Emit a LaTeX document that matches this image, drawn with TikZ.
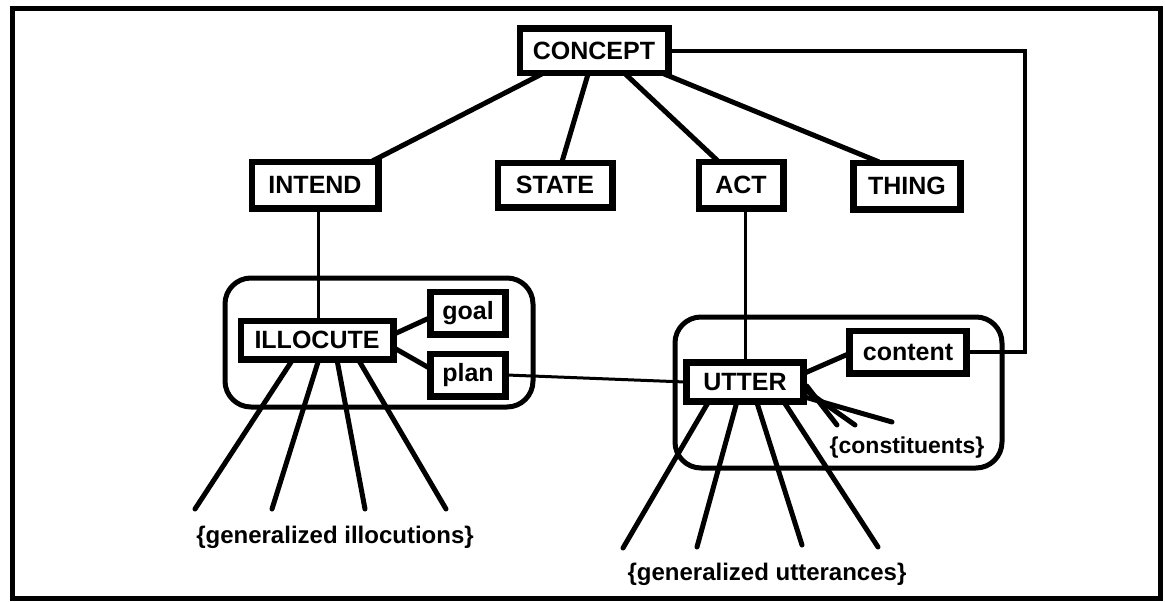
\documentclass[tikz,border=0pt]{standalone}
\usepackage{fontspec}
\setmainfont{Liberation Sans}
\usetikzlibrary{calc}
\tikzset{
  lbl/.style={draw, line width=4.5pt, fill=white, inner sep=0pt,
    font=\bfseries\fontsize{25}{25}\selectfont},
  tag/.style={inner sep=0pt, font=\bfseries\fontsize{24}{24}\selectfont},
  link/.style={line width=5pt, line cap=round},
  fine/.style={line width=3pt},
  group/.style={line width=5pt, rounded corners=26pt},
}
\begin{document}
\begin{tikzpicture}[x=1pt,y=-1pt]
\useasboundingbox (0,0) rectangle (1165,602);
% outer frame
\draw[line width=5pt] (12,9) rectangle (1160,598);

% grouping frames
\draw[group] (225,278) rectangle (533,407);
\draw[group] (675,317) rectangle (1002,468);

% concept nodes
\node[lbl, minimum width=146pt, minimum height=42pt] (concept) at (594,51) {CONCEPT};
\node[lbl, minimum width=124pt, minimum height=44pt] (intend) at (315,185) {INTEND};
\node[lbl, minimum width=112pt, minimum height=42pt] (state) at (555,185) {STATE};
\node[lbl, minimum width=82pt, minimum height=44pt] (act) at (741,185) {ACT};
\node[lbl, minimum width=105pt, minimum height=44pt] (thing) at (907,186) {THING};
\node[lbl, minimum width=150pt, minimum height=36pt] (illocute) at (317,340) {ILLOCUTE};
\node[lbl, minimum width=73pt, minimum height=40pt] (goal) at (468,313) {goal};
\node[lbl, minimum width=73pt, minimum height=40pt] (plan) at (468,375) {plan};
\node[lbl, minimum width=115pt, minimum height=37pt] (utter) at (745,382) {UTTER};
\node[lbl, minimum width=115pt, minimum height=40pt] (content) at (908,352) {content};

% labels
\node[tag] (gill) at (335,537) {\{generalized illocutions\}};
\node[tag] (gutt) at (767,574) {\{generalized utterances\}};
\node[tag, font=\bfseries\fontsize{23}{23}\selectfont] (cons) at (907,448) {\{constituents\}};

% free ends of the fans
\coordinate (i1) at (195,509);
\coordinate (i2) at (272,509);
\coordinate (i3) at (365,509);
\coordinate (i4) at (446,509);
\coordinate (u1) at (623,548);
\coordinate (u2) at (697,547);
\coordinate (u3) at (802,545);
\coordinate (u4) at (878,547);
\coordinate (c1) at (837,425);
\coordinate (c2) at (855,425);
\coordinate (c3) at (892,422);
\coordinate (turn) at (1025,352);

% hierarchy below CONCEPT
\draw[link] ($(concept.south west)!0.15!(concept.south east)$) -- ($(intend.north west)!0.95!(intend.north east)$);
\draw[link] ($(concept.south west)!0.46!(concept.south east)$) -- ($(state.north west)!0.56!(state.north east)$);
\draw[link] ($(concept.south west)!0.71!(concept.south east)$) -- ($(act.north west)!0.23!(act.north east)$);
\draw[link] ($(concept.south west)!0.97!(concept.south east)$) -- ($(thing.north west)!0.24!(thing.north east)$);
\draw[line width=4pt] (concept.east) -| (turn) -- (content.east);

% thin links
\draw[fine] ($(intend.south)+(3,0)$) -- ($(illocute.north)+(1,0)$);
\draw[fine] ($(act.south)+(4,0)$) -- (utter.north);
\draw[fine] (plan.east) -- (utter.west);

% ILLOCUTE slots
\draw[link] ($(illocute.east)+(0,-6)$) -- ($(goal.west)+(0,5)$);
\draw[link] ($(illocute.east)+(0,8)$) -- ($(plan.west)+(0,-7)$);
\draw[link] ($(illocute.south west)!0.34!(illocute.south east)$) -- (i1);
\draw[link] ($(illocute.south west)!0.51!(illocute.south east)$) -- (i2);
\draw[link] ($(illocute.south west)!0.63!(illocute.south east)$) -- (i3);
\draw[link] ($(illocute.south west)!0.77!(illocute.south east)$) -- (i4);

% UTTER slots
\draw[link] ($(utter.east)+(0,-9)$) -- ($(content.west)+(0,2)$);
\draw[link] ($(utter.east)+(2,4)$) -- (c1);
\draw[link] ($(utter.east)+(2,9)$) -- (c2);
\draw[link] ($(utter.east)+(0,15)$) -- (c3);
\draw[link] ($(utter.south west)!0.19!(utter.south east)$) -- (u1);
\draw[link] ($(utter.south west)!0.43!(utter.south east)$) -- (u2);
\draw[link] ($(utter.south west)!0.60!(utter.south east)$) -- (u3);
\draw[link] ($(utter.south west)!0.83!(utter.south east)$) -- (u4);

% redraw node boxes on top of the links
\foreach \n in {concept,intend,state,act,thing,illocute,goal,plan,utter,content}{
  \draw[line width=4.5pt] (\n.south west) rectangle (\n.north east);
}
\end{tikzpicture}
\end{document}
